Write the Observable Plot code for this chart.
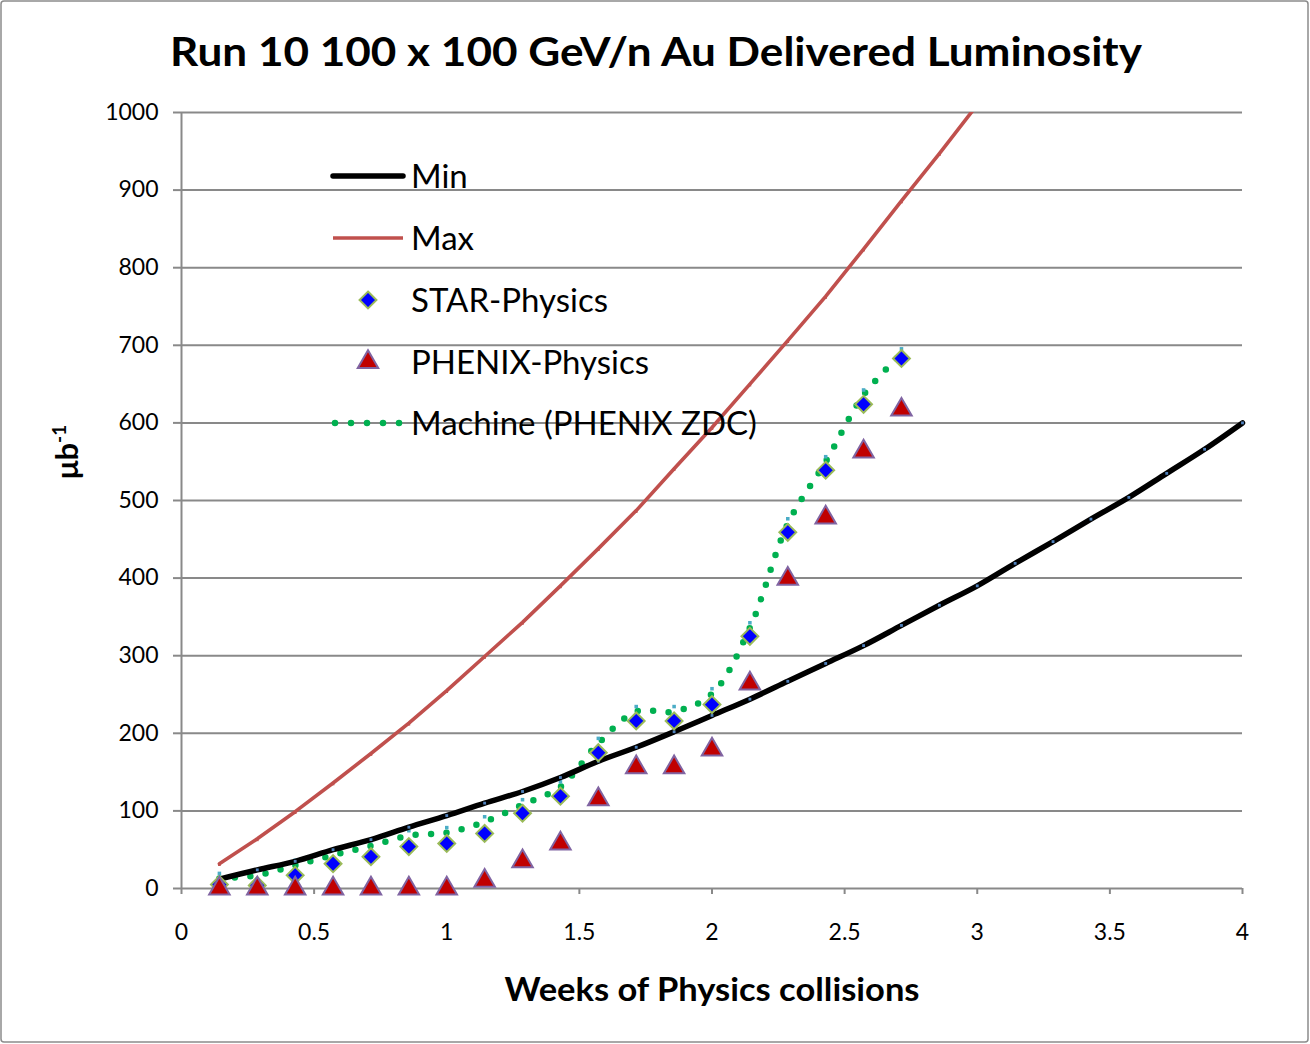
<!DOCTYPE html>
<html><head><meta charset="utf-8">
<script src="https://cdn.jsdelivr.net/npm/d3@7"></script>
<script src="https://cdn.jsdelivr.net/npm/@observablehq/plot@0.6"></script>
<style>
body{margin:0;background:#fff;}
#chart{width:1310px;height:1044px;position:relative;}
#chart svg{display:block;}
</style>
</head><body><div id="chart"></div>
<script>
// ---- data (days of physics running; x = day / 7 weeks) ----
const days = [1,2,3,4,5,6,7,8,9,10,11,12,13,14,15,16,17,18,19,20,21,22,23,24,25,26,27,28];
const minLum = [12,24,35,50,63,79,94,110,125,143,164,182,202,223,244,267,290,313,339,365,390,419,447,476,504,535,566,600];
const maxLum = [32,64,99,136,174,213,255,299,343,390,438,487,541,594,650,706,763,824,886,947,1010];
const starLum = [5,4,17,32,41,54,58,71,97,119,175,216,216,237,325,459,539,624,683];
const phenixLum = [0,0,0,0,0,0,0,10,35,58,115,156,156,179,264,399,478,563,617];
const machineLum = [13,17,30,43,55,68,72,86,108,131,187,228,228,251,336,470,550,636,689];
const xTicks = [0,0.5,1,1.5,2,2.5,3,3.5,4];
const yTicks = [0,100,200,300,400,500,600,700,800,900,1000];
const titleText = "Run 10 100 x 100 GeV/n Au Delivered Luminosity";
const xLabel = "Weeks of Physics collisions";
const legendLabels = ["Min","Max","STAR-Physics","PHENIX-Physics","Machine (PHENIX ZDC)"];

const rows = vals => vals.map((v, i) => ({wk: days[i] / 7, v}));
const minData = rows(minLum), maxData = rows(maxLum), starData = rows(starLum),
      phenixData = rows(phenixLum), machineData = rows(machineLum);

const C = {min:"#000000", max:"#c0504d", starFill:"#0000ff", starStroke:"#9bbb59",
           phFill:"#c00000", phStroke:"#8064a2", mach:"#00b050", machMark:"#4bacc6",
           minMark:"#4f81bd", grid:"#898989"};
const R = 7.6;

const W = 1310, H = 1044;
const plot = Plot.plot({
  width: W, height: H,
  marginLeft: 181, marginRight: 68, marginTop: 112, marginBottom: 156,
  style: {fontFamily: "Lato, 'Open Sans', sans-serif", fontSize: "23px", color: "#000", background: "#fff"},
  x: {domain: [0, 4], ticks: xTicks, tickFormat: d => String(d)},
  y: {domain: [0, 1000], ticks: yTicks, tickFormat: d => String(d)},
  marks: [
    Plot.ruleY(yTicks.filter(d => d > 0), {stroke: C.grid, strokeWidth: 2}),
    Plot.axisX(xTicks, {tickSize: 6, tickPadding: 29, stroke: C.grid, strokeWidth: 2, fill: "#000", label: null, fontSize: 23, tickFormat: d => String(d)}),
    Plot.axisY(yTicks, {tickSize: 8, tickPadding: 15, stroke: C.grid, strokeWidth: 2, fill: "#000", label: null, fontSize: 23, tickFormat: d => String(d)}),
    Plot.ruleX([0], {stroke: C.grid, strokeWidth: 2}),
    Plot.ruleY([0], {stroke: C.grid, strokeWidth: 2}),
    Plot.line(machineData, {x: "wk", y: "v", stroke: C.mach, strokeWidth: 6.5, strokeDasharray: "0,15.5", strokeLinecap: "round", curve: "catmull-rom"}),
    Plot.dot(machineData, {x: "wk", y: "v", symbol: "square", r: 2, fill: C.machMark, dy: -5}),
    Plot.line(minData, {x: "wk", y: "v", stroke: C.min, strokeWidth: 5.5, curve: "catmull-rom"}),
    Plot.dot(minData, {x: "wk", y: "v", symbol: "square", r: 1.6, fill: C.minMark}),
    Plot.line(maxData, {x: "wk", y: "v", stroke: C.max, strokeWidth: 3.6, clip: true}),
    Plot.dot(maxData.filter(d => d.v <= 1000), {x: "wk", y: "v", symbol: "square", r: 1.5, fill: C.max, dy: 1}),
    Plot.dot(starData, {x: "wk", y: "v", symbol: "diamond2", r: R, fill: C.starFill, stroke: C.starStroke, strokeWidth: 2}),
    Plot.dot(phenixData, {x: "wk", y: "v", symbol: "triangle", r: R, fill: C.phFill, stroke: C.phStroke, strokeWidth: 2})
  ]
});
document.getElementById("chart").appendChild(plot);

const svg = d3.select(plot);
// outer border
svg.append("rect").attr("x", 1).attr("y", 1).attr("width", W - 3).attr("height", H - 3)
  .attr("rx", 3).attr("fill", "none").attr("stroke", "#8c8c8c").attr("stroke-width", 1.5);
// title
svg.append("text").attr("x", 656).attr("y", 66).attr("text-anchor", "middle")
  .attr("font-family", "Lato, sans-serif").attr("font-weight", "bold").attr("font-size", 40)
  .attr("textLength", 972).attr("lengthAdjust", "spacingAndGlyphs")
  .attr("fill", "#000").text(titleText);
// x label
svg.append("text").attr("x", 712).attr("y", 1001).attr("text-anchor", "middle")
  .attr("font-family", "Lato, sans-serif").attr("font-weight", "bold").attr("font-size", 32)
  .attr("textLength", 415).attr("lengthAdjust", "spacingAndGlyphs")
  .attr("fill", "#000").text(xLabel);
// y label
const yl = svg.append("text").attr("transform", "translate(78,452) rotate(-90)").attr("text-anchor", "middle")
  .attr("font-family", "Lato, sans-serif").attr("font-weight", "bold").attr("font-size", 31).attr("fill", "#000");
yl.append("tspan").text("μb");
yl.append("tspan").attr("dy", -12).attr("font-size", 19).text("-1");

// legend
const lg = svg.append("g").attr("font-family", "Lato, sans-serif").attr("font-size", 33)
  .attr("fill", "#000").attr("text-anchor", "start");
const rowsY = [176, 238, 300, 362, 423];
const lx0 = 333, lx1 = 403, tx = 411;
lg.append("line").attr("x1", lx0).attr("x2", lx1).attr("y1", rowsY[0]).attr("y2", rowsY[0])
  .attr("stroke", C.min).attr("stroke-width", 5.5).attr("stroke-linecap", "round");
lg.append("line").attr("x1", lx0).attr("x2", lx1).attr("y1", rowsY[1]).attr("y2", rowsY[1])
  .attr("stroke", C.max).attr("stroke-width", 3.6);
lg.append("path").attr("d", d3.symbol(d3.symbolDiamond2, Math.PI * R * R)())
  .attr("transform", `translate(368,${rowsY[2]})`).attr("fill", C.starFill).attr("stroke", C.starStroke).attr("stroke-width", 2);
lg.append("path").attr("d", d3.symbol(d3.symbolTriangle, Math.PI * R * R)())
  .attr("transform", `translate(368,${rowsY[3]})`).attr("fill", C.phFill).attr("stroke", C.phStroke).attr("stroke-width", 2);
lg.append("line").attr("x1", lx0 + 2).attr("x2", lx1).attr("y1", rowsY[4]).attr("y2", rowsY[4])
  .attr("stroke", C.mach).attr("stroke-width", 6.5).attr("stroke-dasharray", "0,16").attr("stroke-linecap", "round");
legendLabels.forEach((t, i) => {
  lg.append("text").attr("x", tx).attr("y", rowsY[i] + 12).attr("text-anchor", "start").text(t);
});
</script>
</body></html>
